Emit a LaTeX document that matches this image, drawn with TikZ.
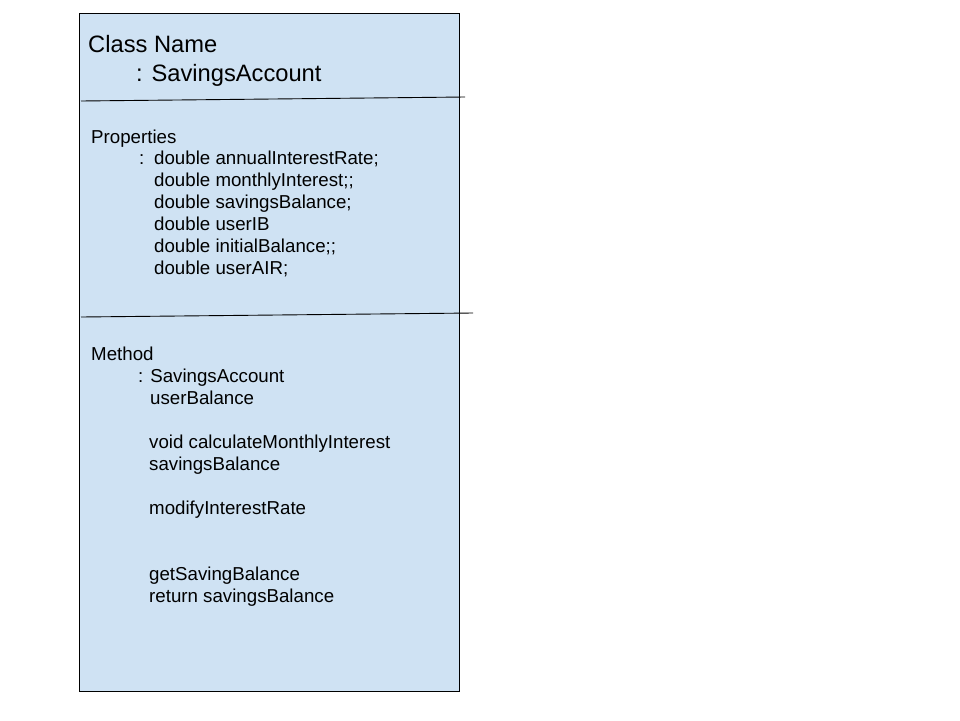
\documentclass[tikz,border=0pt]{standalone}
\usepackage{fontspec}
\setmainfont{Liberation Sans}
\definecolor{boxfill}{HTML}{CFE2F3}
\begin{document}
\begin{tikzpicture}[x=1pt,y=-1pt,
  big/.style={anchor=base west,inner sep=0pt,font=\fontsize{23.7}{28}\selectfont},
  txt/.style={anchor=base west,inner sep=0pt,font=\fontsize{18.7}{22}\selectfont},
  sep/.style={draw=black,line width=0.9pt}]
\useasboundingbox (0,0) rectangle (960,720);
\fill[white] (0,0) rectangle (960,720);
\draw[fill=boxfill,draw=black,line width=0.9pt] (79,13) rectangle (459,691);
\coordinate (s1a) at (81,101); \coordinate (s1b) at (465,97);
\coordinate (s2a) at (81,317); \coordinate (s2b) at (473,313);
\draw[sep] (s1a) -- (s1b);
\draw[sep] (s2a) -- (s2b);
\node[big] (cn) at (88,52) {Class Name};
\node[big] (cv) at (136,81) {: SavingsAccount};
\node[txt] (ph) at (91,143) {Properties};
\node[txt] (pc) at (139,164) {:};
\node[txt] (p1) at (154,164) {double annualInterestRate;};
\node[txt] (p2) at (154,186) {double monthlyInterest;;};
\node[txt] (p3) at (154,208) {double savingsBalance;};
\node[txt] (p4) at (154,230) {double userIB};
\node[txt] (p5) at (154,252) {double initialBalance;;};
\node[txt] (p6) at (154,274) {double userAIR;};
\node[txt] (mh) at (91,360) {Method};
\node[txt] (m1) at (138,382) {: SavingsAccount};
\node[txt] (m2) at (150,404) {userBalance};
\node[txt] (m3) at (149,448) {void calculateMonthlyInterest};
\node[txt] (m4) at (149,470) {savingsBalance};
\node[txt] (m5) at (149,514) {modifyInterestRate};
\node[txt] (m6) at (149,580) {getSavingBalance};
\node[txt] (m7) at (149,602) {return savingsBalance};
\end{tikzpicture}
\end{document}
